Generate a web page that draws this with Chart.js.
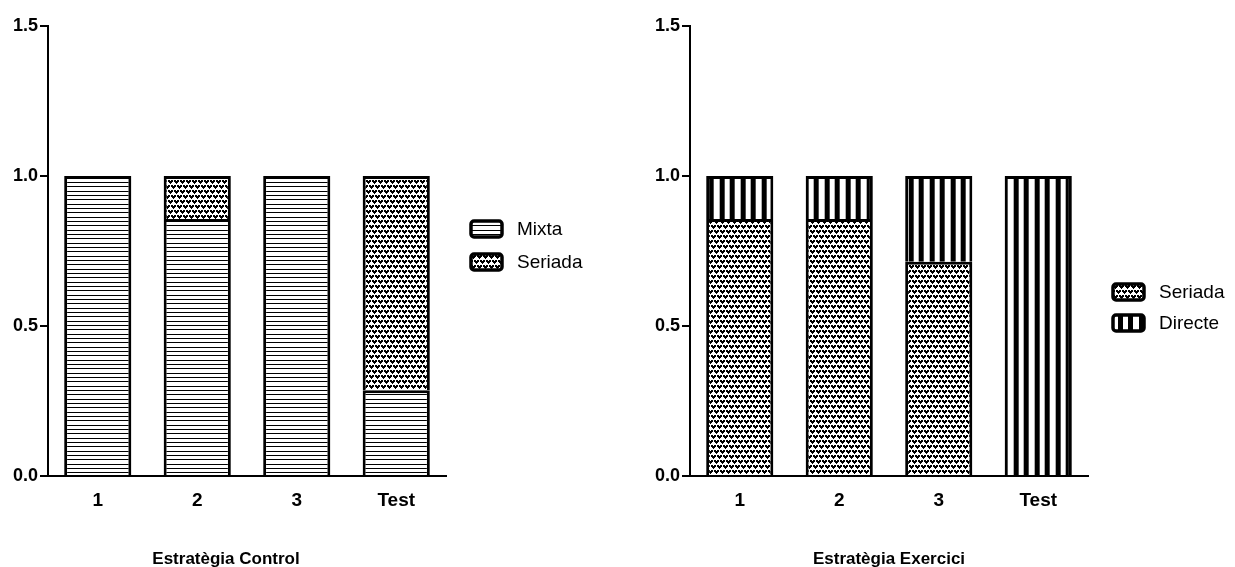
<!DOCTYPE html>
<html>
<head>
<meta charset="utf-8">
<script src="https://cdn.jsdelivr.net/npm/chart.js@4.4.0/dist/chart.umd.min.js"></script>
<style>
  html, body { margin: 0; padding: 0; background: #ffffff; }
  #wrap { position: relative; width: 1235px; height: 567px; overflow: hidden; }
  .panel { position: absolute; top: 0; height: 567px; }
  canvas { display: block; }
</style>
</head>
<body>
<div id="wrap">
  <div class="panel" style="left:0;width:642px"><canvas id="controlChart" width="642" height="567"></canvas></div>
  <div class="panel" style="left:642px;width:593px"><canvas id="exerciciChart" width="593" height="567"></canvas></div>
</div>
<script>
// Proportion of strategy used in each session
const sessions = ['1', '2', '3', 'Test'];
const yTickValues = [0, 0.5, 1.0, 1.5];

const controlMixta = [1, 0.857, 1, 0.286];
const controlSeriada = [0, 0.143, 0, 0.714];

const exerciciSeriada = [0.857, 0.857, 0.714, 0];
const exerciciDirecte = [0.143, 0.143, 0.286, 1];

const controlTitle = 'Estratègia Control';
const exerciciTitle = 'Estratègia Exercici';

const FONT = "'Liberation Sans', Arial, Helvetica, sans-serif";

// ---- hatch fills ----
function makeTile(w, h, paint) {
  const c = document.createElement('canvas');
  c.width = w; c.height = h;
  const g = c.getContext('2d');
  g.fillStyle = '#ffffff';
  g.fillRect(0, 0, w, h);
  g.fillStyle = '#000000';
  paint(g);
  return c;
}
const probe = document.createElement('canvas').getContext('2d');

// horizontal lines
const horizTile = makeTile(8, 13, g => {
  [0, 4, 9].forEach(y => g.fillRect(0, y, 8, 1));
});
// small heart-shaped dots, staggered rows
const heartShape = [
  [1,1,0,1,1],
  [1,1,1,1,1],
  [0,1,1,1,0],
  [0,0,1,0,0]
];
const dotTile = makeTile(6, 10, g => {
  const put = (ox, oy) => {
    heartShape.forEach((row, r) => row.forEach((v, c) => {
      if (v) g.fillRect((ox + c) % 6, (oy + r) % 10, 1, 1);
    }));
  };
  put(0, 0);
  put(3, 5);
});
// vertical stripes: white gap first, then black stripe
const vertTile = makeTile(21, 8, g => {
  g.fillRect(6, 0, 5, 8);
  g.fillRect(16, 0, 5, 8);
});

const horizFill = probe.createPattern(horizTile, 'repeat');
const dotFill = probe.createPattern(dotTile, 'repeat');
const vertFill = probe.createPattern(vertTile, 'repeat');

// stripes start from each bar's own left edge
const alignStripes = {
  id: 'alignStripes',
  beforeDatasetsDraw(chart) {
    chart.data.datasets.forEach((ds, i) => {
      if (!ds.alignFill) return;
      const meta = chart.getDatasetMeta(i);
      meta.data.forEach(el => {
        const left = el.x - el.width / 2 + 3;
        const p = chart.ctx.createPattern(vertTile, 'repeat');
        p.setTransform(new DOMMatrix().translate(left, 0));
        el.options.backgroundColor = p;
      });
    });
  }
};

// ---- legend drawn to the right of the plot ----
const swatchLegend = {
  id: 'swatchLegend',
  afterDraw(chart, args, opts) {
    const { ctx, chartArea } = chart;
    const x0 = chartArea.right + opts.offsetX;
    ctx.save();
    chart.data.datasets.forEach((ds, i) => {
      const cy = opts.y + i * opts.rowGap;
      const w = 31, h = 16, r = 3;
      const x = x0, y = cy - h / 2;
      ctx.beginPath();
      ctx.roundRect(x, y, w, h, r);
      let fill = ds.backgroundColor;
      if (ds.alignFill) {
        fill = ctx.createPattern(vertTile, 'repeat');
        fill.setTransform(new DOMMatrix().translate(x - 1, 0));
      }
      ctx.fillStyle = fill;
      ctx.fill();
      ctx.lineWidth = 3.5;
      ctx.strokeStyle = '#000000';
      ctx.stroke();
      ctx.fillStyle = '#000000';
      ctx.font = '19px ' + FONT;
      ctx.textAlign = 'left';
      ctx.textBaseline = 'middle';
      ctx.fillText(ds.label, x0 + 46, cy + 1);
    });
    ctx.restore();
  }
};

// ---- caption under the category axis ----
const axisCaption = {
  id: 'axisCaption',
  afterDraw(chart, args, opts) {
    const { ctx, chartArea } = chart;
    const cx = (chartArea.left + chartArea.right) / 2 + opts.dx;
    ctx.save();
    ctx.fillStyle = '#000000';
    ctx.font = 'bold 17px ' + FONT;
    ctx.textAlign = 'center';
    ctx.textBaseline = 'alphabetic';
    ctx.fillText(opts.text, cx, opts.baseline);
    ctx.restore();
  }
};

function segmentBorder() {
  return { top: 3, left: 3, right: 3, bottom: 0 };
}

function buildChart(canvasId, lowLabel, lowValues, lowFill, highLabel, highValues, highFill, caption, captionDx, legendY, legendGap) {
  const canvas = document.getElementById(canvasId);
  const rightPad = canvas.width - 446;
  return new Chart(canvas, {
    type: 'bar',
    data: {
      labels: sessions,
      datasets: [
        {
          label: lowLabel, data: lowValues, backgroundColor: lowFill,
          alignFill: lowFill === vertFill,
          borderColor: '#000000', borderWidth: segmentBorder(), borderSkipped: false,
          barPercentage: 0.675, categoryPercentage: 1.0
        },
        {
          label: highLabel, data: highValues, backgroundColor: highFill,
          alignFill: highFill === vertFill,
          borderColor: '#000000', borderWidth: segmentBorder(), borderSkipped: false,
          barPercentage: 0.675, categoryPercentage: 1.0
        }
      ]
    },
    options: {
      responsive: false,
      animation: false,
      devicePixelRatio: 1,
      layout: { padding: { top: 26, right: rightPad, left: 0, bottom: 0 } },
      plugins: {
        legend: { display: false },
        tooltip: { enabled: false },
        swatchLegend: { offsetX: 25, y: legendY, rowGap: legendGap },
        axisCaption: { text: caption, dx: captionDx, baseline: 564 }
      },
      scales: {
        x: {
          stacked: true,
          grid: { display: false, drawTicks: false },
          border: { display: true, color: '#000000', width: 2 },
          ticks: { color: '#000000', font: { family: FONT, size: 19, weight: 'bold' }, padding: 13 },
          afterFit(scale) { scale.height = 91; }
        },
        y: {
          stacked: true,
          min: 0, max: 1.5,
          afterBuildTicks(scale) { scale.ticks = yTickValues.map(v => ({ value: v })); },
          grid: { drawOnChartArea: false, drawTicks: true, tickLength: 8, color: '#000000', lineWidth: 2 },
          border: { display: true, color: '#000000', width: 2 },
          ticks: {
            color: '#000000', padding: 2,
            font: { family: FONT, size: 18, weight: 'bold' },
            callback: v => Number(v).toFixed(1)
          },
          afterFit(scale) { scale.width = 48; }
        }
      }
    },
    plugins: [alignStripes, swatchLegend, axisCaption]
  });
}

buildChart('controlChart', 'Mixta', controlMixta, horizFill, 'Seriada', controlSeriada, dotFill, controlTitle, -21, 229, 33);
buildChart('exerciciChart', 'Seriada', exerciciSeriada, dotFill, 'Directe', exerciciDirecte, vertFill, exerciciTitle, 0, 292, 31);
</script>
</body>
</html>
